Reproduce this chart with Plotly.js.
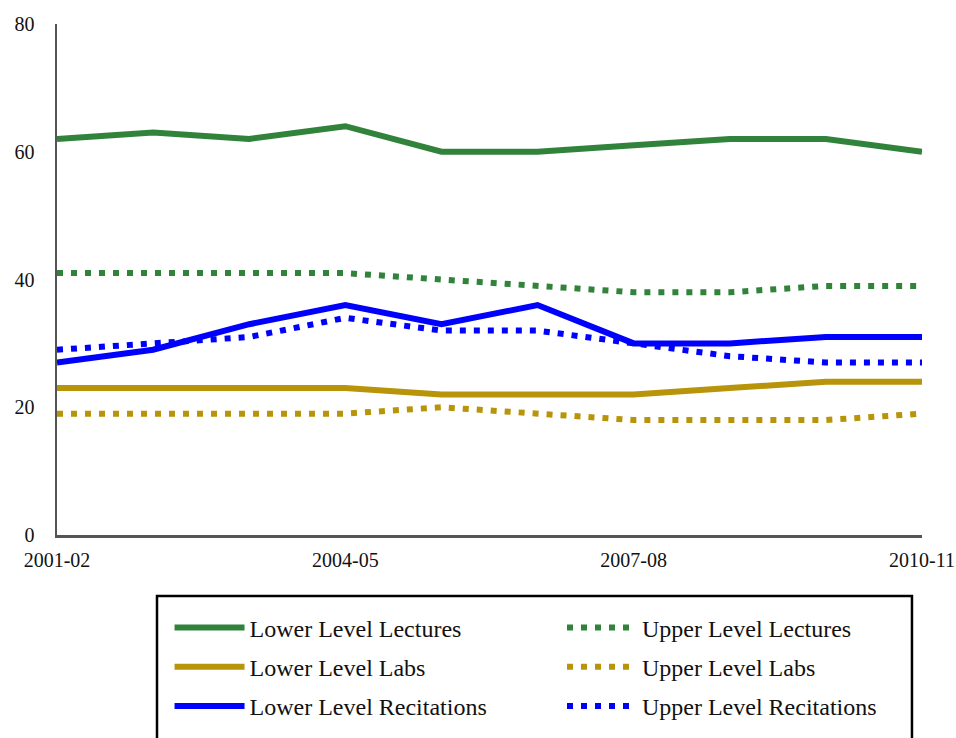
<!DOCTYPE html>
<html>
<head>
<meta charset="utf-8">
<script src="https://cdn.plot.ly/plotly-3.0.1.min.js"></script>
<style>html,body{margin:0;padding:0;background:#fff;}#chart{width:956px;height:738px;}</style>
</head>
<body>
<div id="chart"></div>
<script>
const years = ['2001-02','2002-03','2003-04','2004-05','2005-06','2006-07','2007-08','2008-09','2009-10','2010-11'];
const tickLabels = ['2001-02','2004-05','2007-08','2010-11'];
const lowerLectures = [62, 63, 62, 64, 60, 60, 61, 62, 62, 60];
const upperLectures = [41, 41, 41, 41, 40, 39, 38, 38, 39, 39];
const lowerLabs = [23, 23, 23, 23, 22, 22, 22, 23, 24, 24];
const upperLabs = [19, 19, 19, 19, 20, 19, 18, 18, 18, 19];
const lowerRecitations = [27, 29, 33, 36, 33, 36, 30, 30, 31, 31];
const upperRecitations = [29, 30, 31, 34, 32, 32, 30, 28, 27, 27];

const GREEN = '#31833c', GOLD = '#b8940a', BLUE = '#0000ff';
const FONT = 'Liberation Serif, Times New Roman, serif';

function solid(name, y, color) {
  return {x: years, y: y, name: name, type: 'scatter', mode: 'lines',
    line: {color: color, width: 6}, legend: 'legend', legendgroup: name};
}
function dotted(name, y, color) {
  return {x: years, y: y, name: name, type: 'scatter', mode: 'lines',
    line: {color: color, width: 6, dash: '6px,8px'}, legend: 'legend2', legendgroup: name};
}

const traces = [
  solid('Lower Level Lectures', lowerLectures, GREEN),
  dotted('Upper Level Lectures', upperLectures, GREEN),
  solid('Lower Level Labs', lowerLabs, GOLD),
  dotted('Upper Level Labs', upperLabs, GOLD),
  solid('Lower Level Recitations', lowerRecitations, BLUE),
  dotted('Upper Level Recitations', upperRecitations, BLUE)
];

const legendCommon = {
  orientation: 'v', traceorder: 'grouped', tracegroupgap: 5,
  itemwidth: 70,
  font: {family: FONT, size: 24, color: '#111'},
  bgcolor: 'rgba(0,0,0,0)', borderwidth: 0, yanchor: 'top', xanchor: 'left'
};

const layout = {
  width: 956, height: 738,
  margin: {l: 57, r: 34, t: 24, b: 203, autoexpand: false},
  paper_bgcolor: '#fff', plot_bgcolor: '#fff',
  font: {family: FONT, size: 20, color: '#111'},
  showlegend: true,
  xaxis: {
    type: 'category', categoryorder: 'array', categoryarray: years,
    range: [0, years.length - 1],
    tickmode: 'array', tickvals: tickLabels, ticktext: tickLabels,
    showline: true, linecolor: '#555', linewidth: 2.5,
    showgrid: false, zeroline: false, ticks: '',
    ticklabelstandoff: 5,
    tickfont: {family: FONT, size: 20, color: '#111'}
  },
  yaxis: {
    range: [0, 80], tickvals: [0, 20, 40, 60, 80],
    showline: true, linecolor: '#555', linewidth: 2.5,
    showgrid: false, zeroline: false, ticks: '',
    ticklabelstandoff: 16,
    tickfont: {family: FONT, size: 20, color: '#111'}
  },
  legend: Object.assign({}, legendCommon, {x: 0.1301, y: -0.138}),
  legend2: Object.assign({}, legendCommon, {x: 0.5838, y: -0.138}),
  shapes: [{
    type: 'rect', xref: 'paper', yref: 'paper',
    x0: 0.1156, x1: 0.9884, y0: -0.1194, y1: -0.46,
    line: {color: '#000', width: 2.5}, fillcolor: 'rgba(0,0,0,0)'
  }]
};

Plotly.newPlot('chart', traces, layout, {staticPlot: true, displayModeBar: false});
</script>
</body>
</html>
